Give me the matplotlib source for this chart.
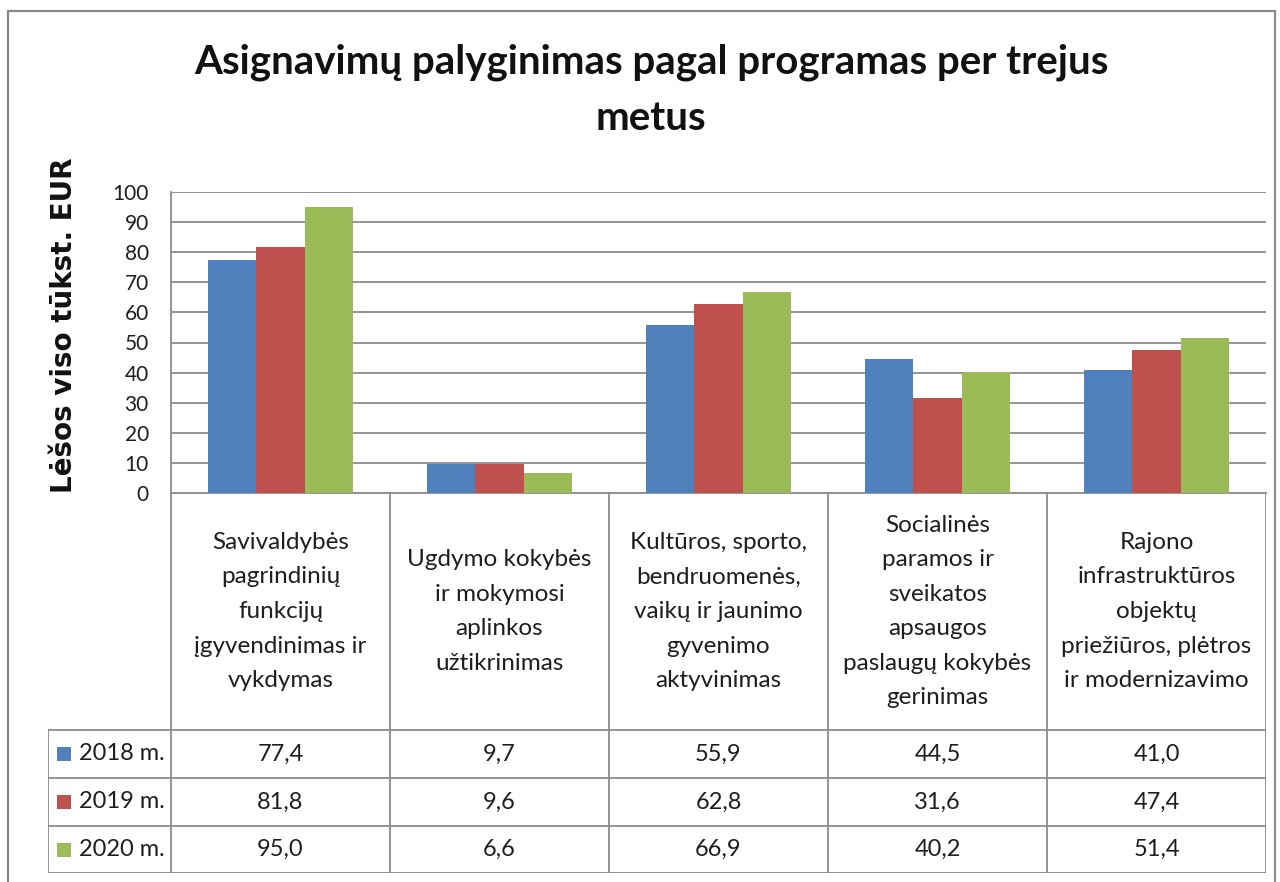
import matplotlib
matplotlib.use("Agg")
import matplotlib.pyplot as plt
from matplotlib.patches import Rectangle
import numpy as np

plt.rcParams["font.family"] = ["Lato", "DejaVu Sans"]

title = "Asignavimų palyginimas pagal programas per trejus\nmetus"
ylabel = "Lėšos viso tūkst. EUR"
programs = [
    "Savivaldybės\npagrindinių\nfunkcijų\nįgyvendinimas ir\nvykdymas",
    "Ugdymo kokybės\nir mokymosi\naplinkos\nužtikrinimas",
    "Kultūros, sporto,\nbendruomenės,\nvaikų ir jaunimo\ngyvenimo\naktyvinimas",
    "Socialinės\nparamos ir\nsveikatos\napsaugos\npaslaugų kokybės\ngerinimas",
    "Rajono\ninfrastruktūros\nobjektų\npriežiūros, plėtros\nir modernizavimo",
]
years = ["2018 m.", "2019 m.", "2020 m."]
v2018 = [77.4, 9.7, 55.9, 44.5, 41.0]
v2019 = [81.8, 9.6, 62.8, 31.6, 47.4]
v2020 = [95.0, 6.6, 66.9, 40.2, 51.4]
colors = ["#4F81BD", "#C0504D", "#9BBB59"]

W, H = 1280, 882
line_col = "#8c8c8c"
txt_col = "#1e1e1e"

fig = plt.figure(figsize=(W / 100, H / 100), dpi=100)

# outer chart frame (bottom edge is cut off in the original)
fig.add_artist(Rectangle((8 / W, -0.02), (1275 - 8) / W, 1.02 - 11 / H,
                         fill=False, edgecolor="#8a8a8a", lw=1.6,
                         transform=fig.transFigure))

# bar area
ax = fig.add_axes([171 / W, 1 - 493 / H, (1266 - 171) / W, (493 - 192) / H])
series = [v2018, v2019, v2020]
x = np.arange(len(programs))
w = 0.22
for i, vals in enumerate(series):
    ax.bar(x + (i - 1) * w, vals, w, color=colors[i], zorder=3)

ax.set_xlim(-0.5, len(programs) - 0.5)
ax.set_ylim(0, 100)
ax.set_yticks(range(0, 101, 10))
ax.set_xticks([])
ax.grid(axis="y", color=line_col, lw=1.3, zorder=0)
ax.tick_params(axis="y", length=0, pad=16, labelsize=15, labelcolor=txt_col)
for s in ["top", "right"]:
    ax.spines[s].set_visible(False)
for s in ["left", "bottom"]:
    ax.spines[s].set_color(line_col)
    ax.spines[s].set_linewidth(1.3)

fig.text(651 / W, 1 - 90 / H, title, ha="center", va="center",
         fontsize=29, fontweight="bold", color="#111111", linespacing=1.62)
fig.text(64 / W, 1 - 325 / H, ylabel, rotation=90, ha="center", va="center",
         fontsize=20, fontweight="bold", family="DejaVu Sans", color="#111111")

# data table under the bars
tax = fig.add_axes([48 / W, 1 - 873 / H, (1266 - 48) / W, (873 - 493) / H])
x0 = -0.5 - 123 / 219
tax.set_xlim(x0, len(programs) - 0.5)
tax.set_ylim(380, 0)
tax.axis("off")

rows = [237, 285, 333, 380]
for xv in np.arange(-0.5, len(programs), 1.0):
    tax.plot([xv, xv], [0, 380], color=line_col, lw=1.3)
tax.plot([x0, x0], [rows[0], rows[-1]], color=line_col, lw=1.3)
for yv in rows:
    tax.plot([x0, len(programs) - 0.5], [yv, yv], color=line_col, lw=1.3)

for i, name in enumerate(programs):
    tax.text(i, rows[0] / 2, name, ha="center", va="center", fontsize=17.5,
             color=txt_col, linespacing=1.8)

for r, (yr, vals) in enumerate(zip(years, series)):
    yc = (rows[r] + rows[r + 1]) / 2
    tax.plot(x0 + 0.075, yc, marker="s", ms=10, color=colors[r], mew=0)
    tax.text(x0 + 0.14, yc, yr, ha="left", va="center", fontsize=17, color=txt_col)
    for i, v in enumerate(vals):
        tax.text(i, yc, f"{v:.1f}".replace(".", ","), ha="center", va="center",
                 fontsize=17, color=txt_col)

fig.savefig("out.png", dpi=100)
